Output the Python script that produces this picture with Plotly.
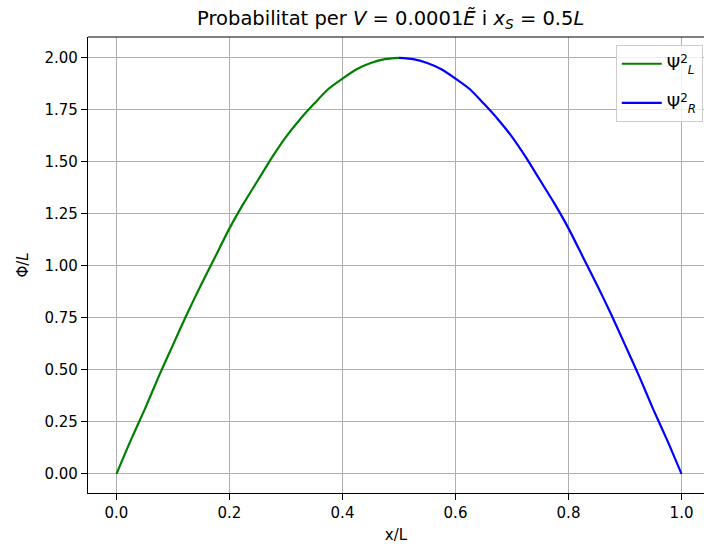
import plotly.graph_objects as go

# Readings from the reference
x_left = [0.0, 0.025, 0.05, 0.075, 0.10, 0.125, 0.15, 0.175, 0.20, 0.225, 0.25,
          0.275, 0.30, 0.325, 0.35, 0.375, 0.40, 0.425, 0.45, 0.475, 0.50]
psi_left = [0.0, 0.16, 0.31, 0.47, 0.62, 0.77, 0.91, 1.045, 1.18, 1.30, 1.41,
            1.52, 1.62, 1.705, 1.78, 1.85, 1.90, 1.945, 1.975, 1.994, 2.00]
x_right = [0.50, 0.525, 0.55, 0.575, 0.60, 0.625, 0.65, 0.675, 0.70, 0.725, 0.75,
           0.775, 0.80, 0.825, 0.85, 0.875, 0.90, 0.925, 0.95, 0.975, 1.0]
psi_right = [2.00, 1.994, 1.975, 1.945, 1.90, 1.85, 1.78, 1.705, 1.62, 1.52, 1.41,
             1.30, 1.18, 1.045, 0.91, 0.77, 0.62, 0.47, 0.31, 0.16, 0.0]

x_ticks = [0.0, 0.2, 0.4, 0.6, 0.8, 1.0]
x_tick_labels = ["0.0", "0.2", "0.4", "0.6", "0.8", "1.0"]
y_ticks = [0.0, 0.25, 0.5, 0.75, 1.0, 1.25, 1.5, 1.75, 2.0]
y_tick_labels = ["0.00", "0.25", "0.50", "0.75", "1.00", "1.25", "1.50", "1.75", "2.00"]

FONT = "DejaVu Sans"

fig = go.Figure()
fig.add_trace(go.Scatter(x=x_left, y=psi_left, mode="lines",
                         line=dict(color="#008000", width=2.2, shape="spline", smoothing=0.6),
                         legendgroup="L",
                         name="Ψ<sup>2</sup><sub><i>L</i></sub>"))
fig.add_trace(go.Scatter(x=x_right, y=psi_right, mode="lines",
                         line=dict(color="#0000ff", width=2.2, shape="spline", smoothing=0.6),
                         legendgroup="R",
                         name="Ψ<sup>2</sup><sub><i>R</i></sub>"))

axis_common = dict(
    showgrid=True, gridcolor="#b0b0b0", gridwidth=1,
    zeroline=False, showline=True, linecolor="black", linewidth=1.2,
    ticks="outside", ticklen=6, tickwidth=1.2, tickcolor="black",
    tickfont=dict(family=FONT, size=15, color="black"),
)

fig.update_layout(
    width=704, height=552,
    margin=dict(l=88, r=0, t=37, b=59),
    paper_bgcolor="white", plot_bgcolor="white",
    font=dict(family=FONT, color="black"),
    title=dict(text="Probabilitat per <i>V</i> = 0.0001<i>Ẽ</i> i <i>x<sub>S</sub></i> = 0.5<i>L</i>",
               x=0.555, xanchor="center", y=1 - 18 / 552, yanchor="middle",
               font=dict(family=FONT, size=19.5, color="black")),
    xaxis=dict(range=[-0.0504, 1.0398], tickvals=x_ticks, ticktext=x_tick_labels,
               title=dict(text="x/L", font=dict(family=FONT, size=15), standoff=8),
               mirror=False, **axis_common),
    yaxis=dict(range=[-0.092, 2.1], tickvals=y_ticks, ticktext=y_tick_labels,
               title=dict(text="Φ/<i>L</i>", font=dict(family=FONT, size=15), standoff=12),
               **axis_common),
    legend=dict(x=0.998, xanchor="right", y=0.982, yanchor="top",
                bgcolor="rgba(255,255,255,0.8)", bordercolor="#cccccc", borderwidth=1,
                font=dict(family=FONT, size=17, color="black"), itemwidth=40,
                tracegroupgap=14),
    showlegend=True,
)
fig.add_shape(type="line", xref="paper", yref="paper", x0=0, x1=1, y0=1, y1=1,
              line=dict(color="black", width=1.2))

fig.write_html("out.html")
